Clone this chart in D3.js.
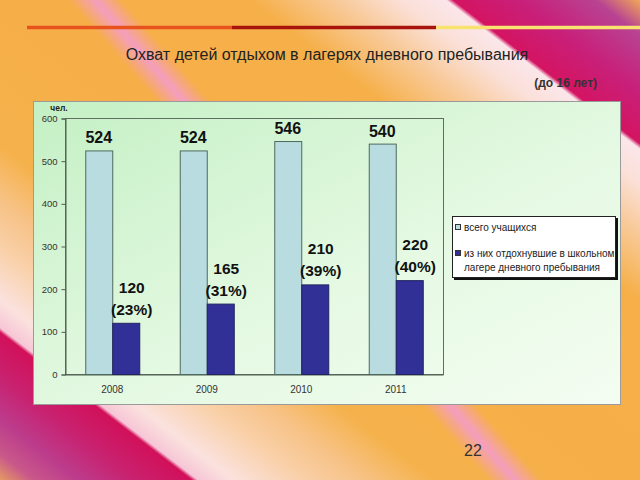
<!DOCTYPE html>
<html><head><meta charset="utf-8">
<script src="https://cdn.jsdelivr.net/npm/d3@7"></script>
<style>html,body{margin:0;padding:0;overflow:hidden;background:#f5b048}svg{display:block;font-family:"Liberation Sans",Arial,sans-serif}</style>
</head><body>
<svg id="c" width="640" height="480"></svg>
<script>
const years = ["2008","2009","2010","2011"];
const seriesNames = ["всего учащихся", "из них отдохнувшие в школьном лагере дневного пребывания"];
const totalStudents = [524, 524, 546, 540];
const campStudents = [120, 165, 210, 220];
const campPercent = ["23%", "31%", "39%", "40%"];
const yTicks = [0, 100, 200, 300, 400, 500, 600];
const titleText = "Охват детей отдыхом в лагерях дневного пребывания";
const subTitle = "(до 16 лет)";
const unitLabel = "чел.";
const pageNum = "22";

const FONT = "'Liberation Sans',Arial,sans-serif";
const svg = d3.select("#c");
const defs = svg.append("defs");

// background: gradient along s = x - k*y
function lineGrad(id, k, s0, s1, stops) {
  const q = 1 + k * k;
  const g = defs.append("linearGradient").attr("id", id).attr("gradientUnits", "userSpaceOnUse")
    .attr("x1", s0 / q).attr("y1", -k * s0 / q).attr("x2", s1 / q).attr("y2", -k * s1 / q);
  stops.forEach(s => g.append("stop").attr("offset", (s[0] - s0) / (s1 - s0))
    .attr("stop-color", s[1]).attr("stop-opacity", s.length > 2 ? s[2] : 1));
}
lineGrad("bg", 1.3, -624, 640, [
  [-624,"#e59a62"],[-590,"#c9588a"],[-545,"#bc3c8c"],[-490,"#c82270"],[-432,"#d2105a"],
  [-426,"#f6c6d6"],[-390,"#fbe2de"],[-320,"#f9d0a8"],[-260,"#f7c286"],[-190,"#f5b24c"],
  [0,"#f6ae48"],[250,"#f6b04a"],[330,"#f8c894"],[400,"#fbe0d8"],[446,"#fbe6ea"],
  [453,"#d41462"],[520,"#c8207a"],[595,"#b84392"],[640,"#f0a858"]
]);
lineGrad("streak", 0.875, 0, 200, [
  [0,"#f59ccc",0],[68,"#f59ccc",0],[95,"#f59ccc",0.9],[122,"#f59ccc",0],[200,"#f59ccc",0]
]);
svg.append("rect").attr("width",640).attr("height",480).attr("fill","url(#bg)");
svg.append("rect").attr("width",640).attr("height",480).attr("fill","url(#streak)");

// top rule
[[27,232,"#e8521c"],[232,436,"#a8140c"],[436,640,"#f8e270"]].forEach(s=>{
  svg.append("line").attr("x1",s[0]).attr("x2",s[1]).attr("y1",27.5).attr("y2",27.5)
    .attr("stroke",s[2]).attr("stroke-width",3.5);
});

svg.append("text").attr("x",327).attr("y",60).attr("text-anchor","middle")
  .attr("font-size",16).attr("fill","#222").text(titleText);
svg.append("text").attr("x",597).attr("y",87).attr("text-anchor","end")
  .attr("font-size",12).attr("font-weight","bold").attr("fill","#333").text(subTitle);

// chart box
const boxG = defs.append("linearGradient").attr("id","box").attr("x1",0).attr("y1",0).attr("x2",1).attr("y2",1);
boxG.append("stop").attr("offset",0).attr("stop-color","#c4f0c4");
boxG.append("stop").attr("offset",0.55).attr("stop-color","#e4f9e2");
boxG.append("stop").attr("offset",1).attr("stop-color","#f4fdf2");
svg.append("rect").attr("x",33.5).attr("y",101.5).attr("width",587).attr("height",303)
  .attr("fill","url(#box)").attr("stroke","#9a9a9a").attr("stroke-width",1);

const plot = {l:65, r:443, t:118, b:374};
const y = d3.scaleLinear().domain([0,600]).range([plot.b, plot.t]);
const x0 = d3.scaleBand().domain(years).range([plot.l, plot.r]).padding(0);
const bw = x0.bandwidth();
const x1 = d3.scaleBand().domain([0,1]).range([(bw-54)/2, (bw+54)/2]).padding(0);

// plot border
svg.append("rect").attr("x",plot.l+0.5).attr("y",plot.t+0.5).attr("width",plot.r-plot.l).attr("height",plot.b-plot.t)
  .attr("fill","none").attr("stroke","#5e6e60").attr("stroke-width",1);

const yAxis = svg.append("g").attr("transform",`translate(${plot.l+0.5},0.5)`)
  .call(d3.axisLeft(y).tickValues(yTicks).tickSize(4).tickFormat(d3.format("d")));
yAxis.select(".domain").attr("stroke","#4e5e50");
yAxis.selectAll(".tick line").attr("stroke","#4e5e50");
yAxis.selectAll(".tick text").attr("font-size",9.5).attr("fill","#333").attr("font-family",FONT).attr("dx",-1);

const xAxis = svg.append("g").attr("transform",`translate(0,${plot.b+0.5})`)
  .call(d3.axisBottom(x0).tickSize(0).tickPadding(11));
xAxis.select(".domain").attr("stroke","#4e5e50");
xAxis.selectAll(".tick text").attr("font-size",10).attr("fill","#333").attr("font-family",FONT);

svg.append("text").attr("x",59).attr("y",111).attr("text-anchor","middle")
  .attr("font-size",8.5).attr("font-weight","bold").attr("fill","#222").text(unitLabel);

const colors = ["#b8dce0","#303096"];
const strokes = ["#4e6a5e","#232360"];
const data = years.map((yr,i)=>({yr, vals:[totalStudents[i], campStudents[i]], pct:campPercent[i]}));

const groups = svg.append("g").selectAll("g").data(data).join("g")
  .attr("transform",d=>`translate(${x0(d.yr)},0)`);
groups.selectAll("rect").data(d=>d.vals.map((v,k)=>({v,k}))).join("rect")
  .attr("x",d=>x1(d.k)+0.5).attr("width",x1.bandwidth())
  .attr("y",d=>y(d.v)+0.5).attr("height",d=>plot.b-y(d.v))
  .attr("fill",d=>colors[d.k]).attr("stroke",d=>strokes[d.k]).attr("stroke-width",1);

groups.append("text").attr("x",x1(0)+x1.bandwidth()/2).attr("y",d=>y(d.vals[0])-7)
  .attr("text-anchor","middle").attr("font-size",16).attr("font-weight","bold").attr("fill","#111")
  .text(d=>d.vals[0]);
groups.append("text").attr("x",x1(1)+x1.bandwidth()/2+6).attr("y",d=>y(d.vals[1])-30)
  .attr("text-anchor","middle").attr("font-size",15.5).attr("font-weight","bold").attr("fill","#111")
  .text(d=>d.vals[1]);
groups.append("text").attr("x",x1(1)+x1.bandwidth()/2+6).attr("y",d=>y(d.vals[1])-8)
  .attr("text-anchor","middle").attr("font-size",15.5).attr("font-weight","bold").attr("fill","#111")
  .text(d=>"("+d.pct+")");

// legend
const lg = svg.append("g").attr("transform","translate(452,216)");
lg.append("rect").attr("x",2).attr("y",2).attr("width",164).attr("height",62).attr("fill","#111");
lg.append("rect").attr("x",0.5).attr("y",0.5).attr("width",163).attr("height",61).attr("fill","#fff").attr("stroke","#222");
lg.append("rect").attr("x",3.5).attr("y",8.5).attr("width",5).attr("height",5).attr("fill",colors[0]).attr("stroke","#333");
lg.append("text").attr("x",12).attr("y",14.5).attr("font-size",10).attr("fill","#222").text(seriesNames[0]);
lg.append("rect").attr("x",3.5).attr("y",34.5).attr("width",5).attr("height",5).attr("fill",colors[1]).attr("stroke","#333");
const words = seriesNames[1].split(" ");
lg.append("text").attr("x",12).attr("y",40.5).attr("font-size",10).attr("fill","#222").text(words.slice(0,5).join(" "));
lg.append("text").attr("x",12).attr("y",55).attr("font-size",10).attr("fill","#222").text(words.slice(5).join(" "));

svg.append("text").attr("x",473).attr("y",456).attr("text-anchor","middle")
  .attr("font-size",16).attr("fill","#333").text(pageNum);
</script>
</body></html>
